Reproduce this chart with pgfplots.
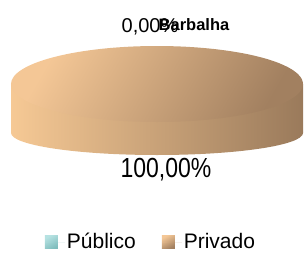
\documentclass[border=0pt]{standalone}
\usepackage{pgfplots}
\pgfplotsset{compat=1.18}
\usepackage{pgfplotstable}
\usepackage{graphicx}
\usepackage{fontspec}
\setmainfont{Liberation Sans}
\definecolor{tanA}{HTML}{F4C796}
\definecolor{tanD}{HTML}{A28060}
\definecolor{sideL}{HTML}{F6C995}
\definecolor{sideR}{HTML}{9A7A5B}
\definecolor{tealA}{HTML}{B6E2E2}
\definecolor{tealB}{HTML}{7FBDBD}
\pgfplotstableread{
cat value
Publico 0.00
Privado 100.00
}\piedata
\pgfplotstablegetelem{0}{value}\of\piedata \let\valPub\pgfplotsretval
\pgfplotstablegetelem{1}{value}\of\piedata \let\valPriv\pgfplotsretval
\begin{document}
\begin{tikzpicture}
\begin{axis}[
  x=1bp, y=1bp, y dir=reverse,
  xmin=0, xmax=304, ymin=0, ymax=249,
  hide axis, clip=false,
  legend columns=2,
  legend style={at={(axis cs:151,242)}, anchor=center, draw=none, fill=none,
    font=\fontsize{21bp}{24bp}\selectfont, inner sep=0pt,
    /tikz/every even column/.append style={column sep=24bp}},
  legend image code/.code={\shade[#1, draw=none] (0bp,-6.5bp) rectangle (13bp,6.5bp); \path[draw=none, fill=none] (0bp,0bp) -- (20bp,0bp);},
]
\path (axis cs:0,0) rectangle (axis cs:304,249);
% side of the Privado slice
\pgfmathsetmacro{\angPriv}{3.6*\valPriv}
\shade[left color=sideL, right color=sideR]
  (axis cs:11,84) -- (axis cs:11,133) arc[start angle=180, end angle=360, x radius=146bp, y radius=22bp]
  -- (axis cs:303,84) -- cycle;
% top of the Privado slice
\shade[top color=tanA, bottom color=tanD, shading angle=60]
  (axis cs:157,84) -- ++(90:146bp and 38bp) arc[start angle=90, end angle=90+\angPriv, x radius=146bp, y radius=38bp] -- cycle;
\addlegendimage{top color=tealA, bottom color=tealB, shading angle=30, draw=none}
\addlegendentry{Público}
\addlegendimage{top color=tanA, bottom color=tanD, shading angle=30, draw=none}
\addlegendentry{Privado}
\node[anchor=base, inner sep=0pt, font=\fontsize{20bp}{22bp}\selectfont] at (axis cs:150,32)
  {\pgfmathprintnumber[fixed,zerofill,precision=2,use comma,assume math mode=true]{\valPub}\%};
\node[anchor=base, inner sep=0pt, font=\bfseries\fontsize{16.5bp}{20bp}\selectfont] at (axis cs:194,30) {Barbalha};
\node[anchor=base, inner sep=0pt] at (axis cs:166,177)
  {\scalebox{1}[1.2]{\fontsize{23bp}{26bp}\selectfont\pgfmathprintnumber[fixed,zerofill,precision=2,use comma,assume math mode=true]{\valPriv}\%}};
\end{axis}
\end{tikzpicture}
\end{document}
